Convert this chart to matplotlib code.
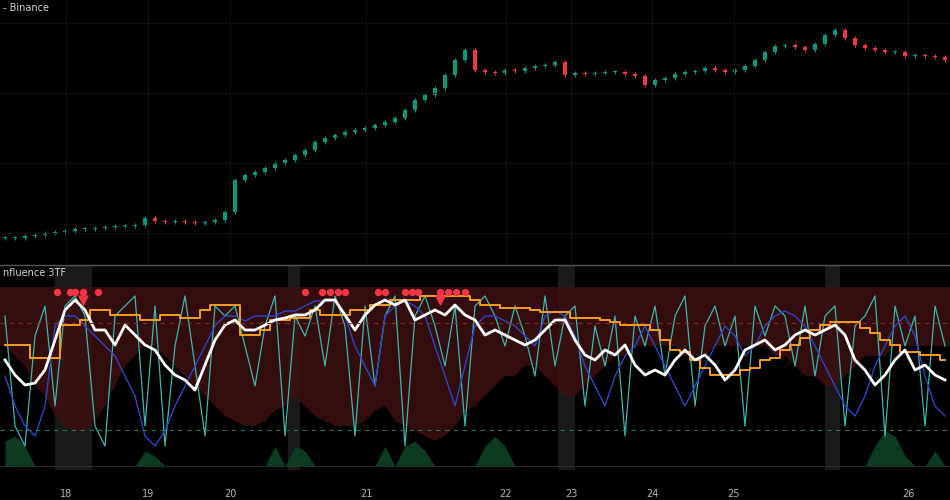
import matplotlib
matplotlib.use("Agg")
import matplotlib.pyplot as plt
import numpy as np

close = [25,25,27,28,30,31,32,34,34,35,36,37,37,38,45,42,41,42,41,40,41,43,51,83,88,91,95,100,103,108,113,121,125,128,131,133,135,138,141,145,153,163,168,175,188,203,213,193,191,190,193,192,195,197,198,201,188,190,189,190,191,191,189,187,178,183,185,189,191,192,195,193,191,193,197,203,211,217,218,216,213,219,228,233,225,218,215,213,211,211,207,208,207,206,203]
white = [106,91,81,83,96,126,156,166,156,136,136,121,141,131,121,116,101,91,86,76,101,126,141,146,136,136,141,146,148,151,151,156,166,166,151,136,151,161,166,161,166,146,151,156,151,161,151,146,131,136,131,126,121,126,136,146,146,126,111,106,116,111,121,101,91,96,91,106,116,106,111,101,86,96,116,121,126,116,121,131,136,131,136,141,131,106,96,81,91,106,116,96,101,91,86]
orange = [121,121,121,108,108,108,141,141,146,156,156,151,151,151,146,146,151,151,148,148,156,161,161,161,131,131,136,146,146,148,148,156,151,151,151,156,156,161,161,166,166,166,170,170,170,170,170,166,161,161,158,158,158,156,154,154,154,148,148,148,146,144,141,141,141,136,126,116,114,106,98,91,91,91,96,98,106,108,116,121,128,136,141,144,144,144,138,133,126,121,114,114,111,111,106]
blue = [90,60,40,30,60,140,150,150,140,130,120,110,90,70,30,20,35,60,80,100,120,140,150,150,145,150,150,150,155,155,160,165,165,165,150,120,100,80,150,160,165,160,150,120,90,60,100,140,150,150,145,140,130,120,150,155,150,130,100,80,60,90,110,120,140,120,100,80,60,80,100,120,140,130,110,120,140,150,155,150,140,120,100,80,60,50,70,100,120,140,150,130,90,60,50]
teal = [150,40,20,130,160,60,160,170,150,40,20,150,160,170,40,160,20,120,170,100,30,160,150,160,120,80,140,170,30,150,130,160,100,170,140,30,160,80,150,170,20,150,170,140,100,160,40,160,170,150,120,160,130,90,170,100,150,160,60,140,100,150,30,150,120,160,90,150,170,60,140,160,120,150,40,160,130,160,150,100,160,90,150,160,40,140,150,170,30,160,120,150,40,160,120]
red_floor = [120,110,100,80,70,50,40,35,35,45,60,80,100,110,120,120,110,100,90,80,70,60,50,45,40,40,45,55,60,70,60,50,45,40,40,40,45,55,60,45,40,35,30,25,30,40,55,60,70,80,90,90,100,100,90,80,70,70,80,90,100,110,110,120,120,120,120,120,110,110,110,120,120,120,120,120,120,110,110,100,90,90,80,80,90,100,110,110,110,120,120,120,120,120,120]
green = [25,30,20,0,0,0,0,0,0,0,0,0,0,0,15,10,0,0,0,0,0,0,0,0,0,0,0,20,0,20,15,0,0,0,0,0,0,0,20,0,20,25,15,0,0,0,0,0,20,30,20,0,0,0,0,0,0,0,0,0,0,0,0,0,0,0,0,0,0,0,0,0,0,0,0,0,0,0,0,0,0,0,0,0,0,0,0,20,35,30,10,0,0,15,0]
dot_x = [57,70,75,83,98,305,322,330,338,345,378,385,405,412,418,440,448,456,465]
tri_x = [83,440]
tick_pos = [66,148,230,366,506,571,652,734,908]
tick_lab = ["18","19","20","21","22","23","24","25","26"]

BG = "#000000"
fig = plt.figure(figsize=(9.5,5), dpi=100, facecolor=BG)
ax1 = fig.add_axes([0,0.474,1,0.526], facecolor=BG)
ax2 = fig.add_axes([0,0.06,1,0.408], facecolor=BG)
x = np.arange(len(close))*10+5

prev = [close[0]] + close[:-1]
for xi,o,c in zip(x,prev,close):
    col = "#089981" if c >= o else "#f23645"
    lo, hi = min(o,c), max(o,c)
    ax1.vlines(xi, lo-2, hi+2, color=col, lw=0.8)
    ax1.bar(xi, max(hi-lo,0.8), bottom=lo, width=4, color=col, lw=0)
ax1.set_xlim(0,950); ax1.set_ylim(0,263)
for gy in [30,100,170,240]:
    ax1.axhline(gy, color="#141414", lw=0.6)
for t in tick_pos:
    ax1.axvline(t, color="#141414", lw=0.6)
ax1.set_xticks([]); ax1.set_yticks([])
for s in ax1.spines.values(): s.set_visible(False)
ax1.text(3,255,"- Binance", color="#d1d4dc", fontsize=7, va="center")

for a,b in [(55,92),(288,300),(558,575),(825,840)]:
    ax2.axvspan(a,b,color="#2a2a2a",alpha=0.6,lw=0)
xe = np.concatenate([[0], x, [950]])
fe = np.concatenate([[red_floor[0]], red_floor, [red_floor[-1]]])
ax2.fill_between(xe, fe, 179, color="#3d1010", alpha=0.85, lw=0)
ax2.fill_between(x, 0, green, color="#0d3b22", lw=0)
ax2.plot(x, teal, color="#3bb8b0", lw=0.9)
ax2.plot(x, blue, color="#2f45c8", lw=1.0)
ax2.plot(x, orange, color="#f59e1b", lw=1.4, drawstyle="steps-mid")
ax2.plot(x, white, color="white", lw=2.0)
ax2.axhline(143, color="#8a2b2b", lw=0.8, ls=(0,(4,4)))
ax2.axhline(36, color="#1f7a55", lw=0.8, ls=(0,(4,4)))
ax2.axhline(0, color="#333333", lw=0.6)
ax2.scatter(dot_x, [174]*len(dot_x), s=18, color="#f23645", zorder=5)
ax2.scatter(tri_x, [166]*len(tri_x), s=40, marker="v", color="#f23645", zorder=5)
ax2.set_xlim(0,950); ax2.set_ylim(-4,200)
ax2.set_xticks(tick_pos); ax2.set_xticklabels(tick_lab)
ax2.tick_params(axis="x", colors="#b2b5be", labelsize=7, length=0, pad=14)
ax2.set_yticks([])
for s in ax2.spines.values(): s.set_visible(False)
ax2.text(3,193,"nfluence 3TF", color="#d1d4dc", fontsize=7, va="center")
fig.add_artist(plt.Line2D([0,1],[0.47,0.47], color="#555555", lw=1))
fig.savefig("out.png", dpi=100, facecolor=BG)
